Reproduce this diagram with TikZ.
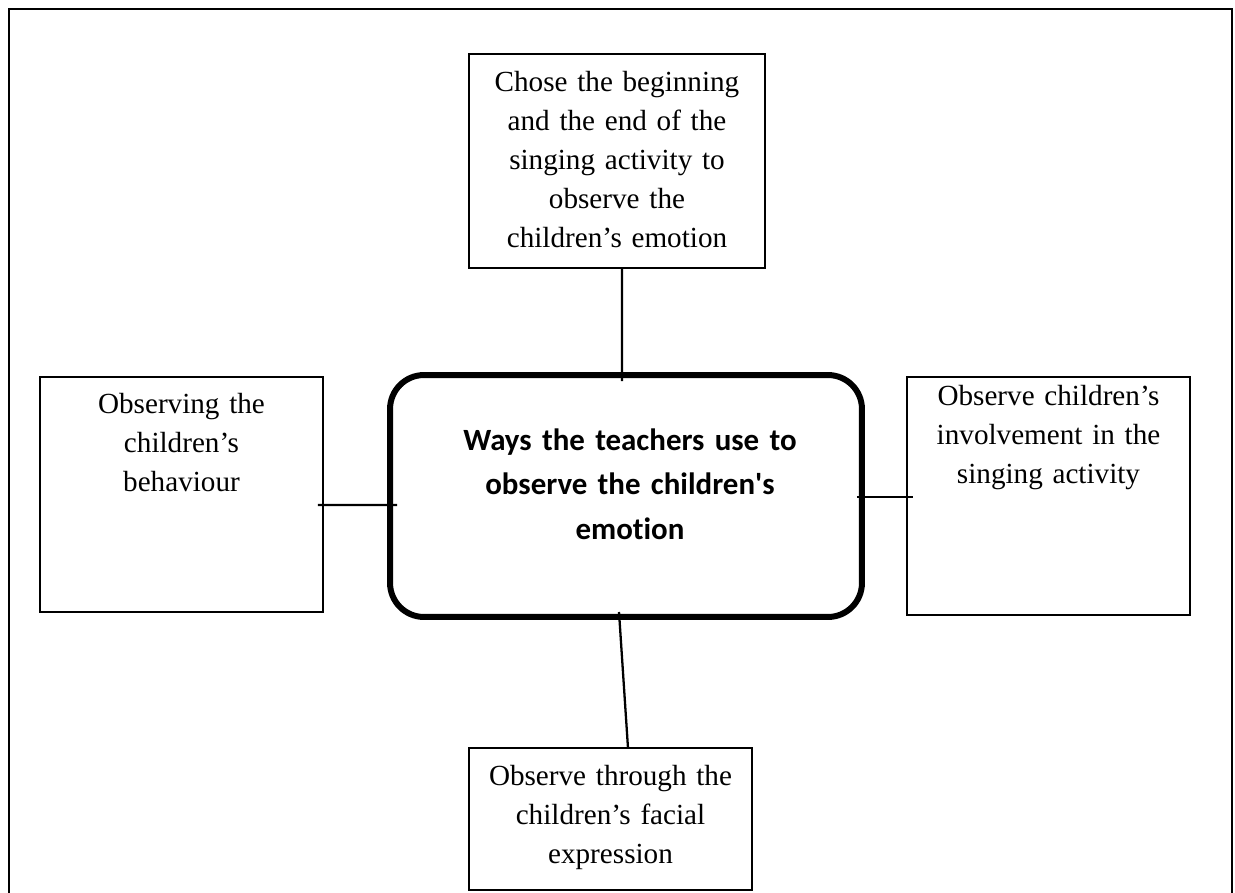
\documentclass[tikz,border=0pt]{standalone}
\usepackage{fontspec}
\setmainfont{Liberation Serif}
\newfontfamily\calib[Ligatures={NoCommon}]{Carlito}
\begin{document}
\begin{tikzpicture}[x=0.02cm,y=-0.02cm,
  box/.style={draw,line width=1.3pt,outer sep=0pt,inner sep=0pt},
  hub/.style={draw,line width=3.4pt,rounded corners=0.68cm,outer sep=0pt,inner sep=0pt},
  serif/.style={inner sep=0pt,outer sep=0pt,anchor=base,text width=6cm,align=center,
    font=\fontsize{16.6}{22.2}\selectfont},
  hubtext/.style={inner sep=0pt,outer sep=0pt,anchor=base,text width=9cm,align=center,
    font=\calib\bfseries\fontsize{17.6}{25.6}\selectfont},
  link/.style={line width=1.3pt}]
\useasboundingbox[fill=white] (0,0) rectangle (1235,893);
\draw[line width=1.3pt] (9,893) -- (9,9) -- (1232,9) -- (1232,893);

% boxes
\node[box,minimum width=5.92cm,minimum height=4.28cm] (T) at (617,161) {};
\node[box,minimum width=5.66cm,minimum height=4.70cm] (L) at (181.5,494.5) {};
\node[box,minimum width=5.66cm,minimum height=4.76cm] (R) at (1048.5,496) {};
\node[box,minimum width=5.66cm,minimum height=2.84cm] (B) at (610.5,819) {};
\node[hub,minimum width=9.44cm,minimum height=4.84cm] (C) at (626,496) {};

% texts
\node[serif] (Tt) at ([yshift=-0.74cm]T.north) {Chose the beginning\\and the end of the\\singing activity to\\observe the\\children’s emotion};
\node[serif] (Lt) at ([yshift=-0.72cm]L.north) {Observing the\\children’s\\behaviour};
\node[serif] (Rt) at ([yshift=-0.56cm]R.north) {Observe children’s\\involvement in the\\singing activity};
\node[serif] (Bt) at ([yshift=-0.74cm]B.north) {Observe through the\\children’s facial\\expression};
\node[hubtext] (Ct) at ([xshift=0.08cm,yshift=-1.5cm]C.north) {Ways the teachers use to\\observe the children\textquotesingle s\\emotion};

% connectors
\draw[link] ([xshift=0.1cm]T.south) -- ([xshift=-0.08cm,yshift=-0.12cm]C.north);
\draw[link] ([xshift=-0.1cm,yshift=-0.21cm]L.east) -- ([xshift=0.14cm,yshift=-0.18cm]C.west);
\draw[link] ([xshift=-0.1cm,yshift=-0.02cm]C.east) -- ([xshift=0.12cm,yshift=-0.02cm]R.west);
\draw[link] ([xshift=-0.14cm,yshift=0.1cm]C.south) -- ([xshift=0.35cm]B.north);
\end{tikzpicture}
\end{document}
